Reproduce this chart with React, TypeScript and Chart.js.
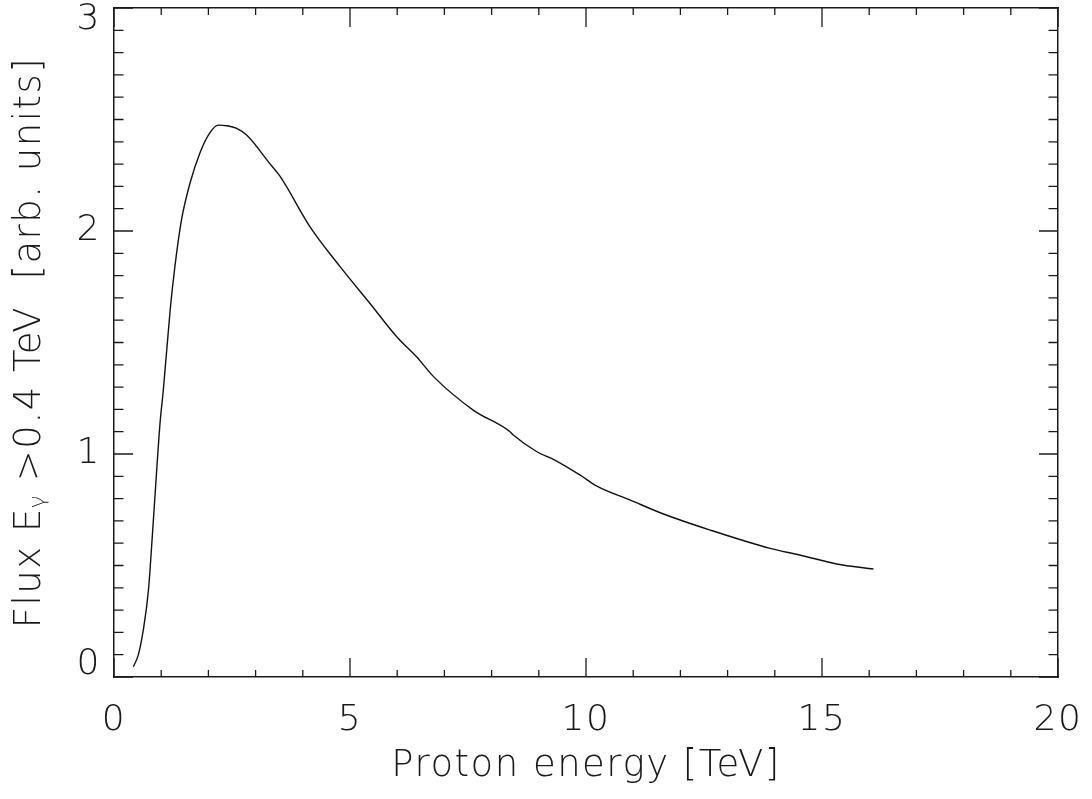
import React, { useEffect, useRef } from "react";
import { Chart, registerables } from "chart.js";

Chart.register(...registerables);

// Proton energy [TeV]
const energyTeV = [
  0.41, 0.515, 0.62, 0.73, 0.83, 0.9, 0.975, 1.045, 1.19, 1.29, 1.43, 1.61,
  1.82, 2.03, 2.21, 2.39, 2.6, 2.81, 3.31, 3.52, 4.15, 4.79, 5.42, 5.99, 6.41,
  6.77, 7.61, 8.39, 8.46, 8.96, 9.31, 9.87, 10.23, 10.93, 11.64, 12.63, 13.9,
  14.53, 15.31, 16.09,
];
// Flux E_gamma > 0.4 TeV [arb. units]
const fluxArb = [
  0.046, 0.099, 0.21, 0.39, 0.69, 0.913, 1.138, 1.287, 1.646, 1.84, 2.05,
  2.214, 2.35, 2.44, 2.475, 2.472, 2.46, 2.43, 2.3, 2.245, 2.02, 1.84, 1.676,
  1.526, 1.436, 1.347, 1.197, 1.1, 1.085, 1.01, 0.976, 0.906, 0.856, 0.794,
  0.731, 0.659, 0.577, 0.547, 0.507, 0.484,
];

const xMajorTicks = [0, 5, 10, 15, 20];
const yMajorTicks = [0, 1, 2, 3];
const xMinorStep = 1;
const yMinorStep = 0.1;

const FONT = "'DejaVu Sans', 'Noto Sans', sans-serif";
const INK = "#1a1a1a";

const textSpacing = {
  id: "textSpacing",
  beforeDraw(chart: any) {
    chart.ctx.letterSpacing = "1.5px";
  },
  afterDraw(chart: any) {
    chart.ctx.letterSpacing = "0px";
  },
};

const idlTicks = {
  id: "idlTicks",
  afterDraw(chart: any) {
    const { ctx, chartArea, scales } = chart;
    const { left, right, top, bottom } = chartArea;
    const xs = scales.x;
    const ys = scales.y;
    ctx.save();
    ctx.strokeStyle = INK;
    ctx.lineWidth = 1.3;
    ctx.beginPath();
    const nx = Math.round((xs.max - xs.min) / xMinorStep);
    for (let i = 0; i <= nx; i++) {
      const v = xs.min + i * xMinorStep;
      const p = xs.getPixelForValue(v);
      const major = xMajorTicks.some((m) => Math.abs(m - v) < 1e-6);
      const len = major ? 19 : 7;
      ctx.moveTo(p, bottom);
      ctx.lineTo(p, bottom - len);
      ctx.moveTo(p, top);
      ctx.lineTo(p, top + len);
    }
    const ny = Math.round((ys.max - ys.min) / yMinorStep);
    for (let i = 0; i <= ny; i++) {
      const v = ys.min + i * yMinorStep;
      const p = ys.getPixelForValue(v);
      const major = yMajorTicks.some((m) => Math.abs(m - v) < 1e-6);
      const len = major ? 19 : 9.5;
      ctx.moveTo(left, p);
      ctx.lineTo(left + len, p);
      ctx.moveTo(right, p);
      ctx.lineTo(right - len, p);
    }
    ctx.stroke();
    ctx.restore();
  },
};

export default function App() {
  const canvasRef = useRef<HTMLCanvasElement | null>(null);

  useEffect(() => {
    if (!canvasRef.current) return;
    const points = energyTeV.map((x, i) => ({ x, y: fluxArb[i] }));
    const yMin = yMajorTicks[0];
    const yMax = yMajorTicks[yMajorTicks.length - 1];
    const chart = new Chart(canvasRef.current, {
      type: "line",
      data: {
        datasets: [
          {
            data: points,
            borderColor: "#111",
            borderWidth: 1.4,
            pointRadius: 0,
            fill: false,
            cubicInterpolationMode: "monotone",
          },
        ],
      },
      options: {
        animation: false,
        responsive: true,
        maintainAspectRatio: false,
        layout: { padding: 0 },
        plugins: {
          legend: { display: false },
          tooltip: { enabled: false },
          title: { display: false },
        },
        scales: {
          x: {
            type: "linear",
            position: "bottom",
            min: 0,
            max: 20,
            afterBuildTicks: (scale: any) => {
              scale.ticks = xMajorTicks.map((v) => ({ value: v }));
            },
            afterFit: (scale: any) => {
              scale.height = 122;
              scale.paddingLeft = 0;
              scale.paddingRight = 0;
            },
            ticks: {
              font: { family: FONT, size: 36, weight: "200" },
              color: INK,
              padding: 22,
              maxRotation: 0,
              autoSkip: false,
            },
            grid: { display: false, drawTicks: false },
            border: { display: true, color: INK, width: 1.5 },
            title: {
              display: true,
              text: "Proton energy [TeV]",
              font: { family: FONT, size: 37, weight: "200" },
              color: INK,
              padding: { top: 0, bottom: 10 },
            },
          },
          x2: {
            type: "linear",
            position: "top",
            min: 0,
            max: 20,
            afterFit: (scale: any) => {
              scale.height = 8;
              scale.paddingLeft = 0;
              scale.paddingRight = 0;
            },
            ticks: { display: false },
            grid: { display: false, drawTicks: false },
            border: { display: true, color: INK, width: 1.5 },
          },
          y: {
            type: "linear",
            position: "left",
            min: yMin,
            max: yMax,
            afterBuildTicks: (scale: any) => {
              scale.ticks = yMajorTicks.map((v) => ({ value: v }));
            },
            afterFit: (scale: any) => {
              scale.width = 114;
              scale.paddingTop = 0;
              scale.paddingBottom = 0;
            },
            ticks: {
              font: { family: FONT, size: 36, weight: "200", lineHeight: 0.66 },
              color: INK,
              padding: 13,
              callback: (value: any) => {
                const s = String(value);
                if (value === yMin) return [s, ""];
                if (value === yMax) return ["", s];
                return s;
              },
            },
            grid: { display: false, drawTicks: false },
            border: { display: true, color: INK, width: 1.5 },
            title: {
              display: true,
              text: "Flux E\u1D67 >0.4 TeV  [arb. units]",
              font: { family: FONT, size: 37, weight: "200" },
              color: INK,
              padding: { top: 8, bottom: 0 },
            },
          },
          y2: {
            type: "linear",
            position: "right",
            min: yMin,
            max: yMax,
            afterFit: (scale: any) => {
              scale.width = 34;
              scale.paddingTop = 0;
              scale.paddingBottom = 0;
            },
            ticks: { display: false },
            grid: { display: false, drawTicks: false },
            border: { display: true, color: INK, width: 1.5 },
          },
        },
      },
      plugins: [textSpacing, idlTicks],
    });
    return () => chart.destroy();
  }, []);

  return (
    <div
      style={{
        position: "absolute",
        left: 0,
        top: 0,
        width: "1092px",
        height: "799px",
        background: "#fff",
      }}
    >
      <canvas ref={canvasRef} />
    </div>
  );
}
